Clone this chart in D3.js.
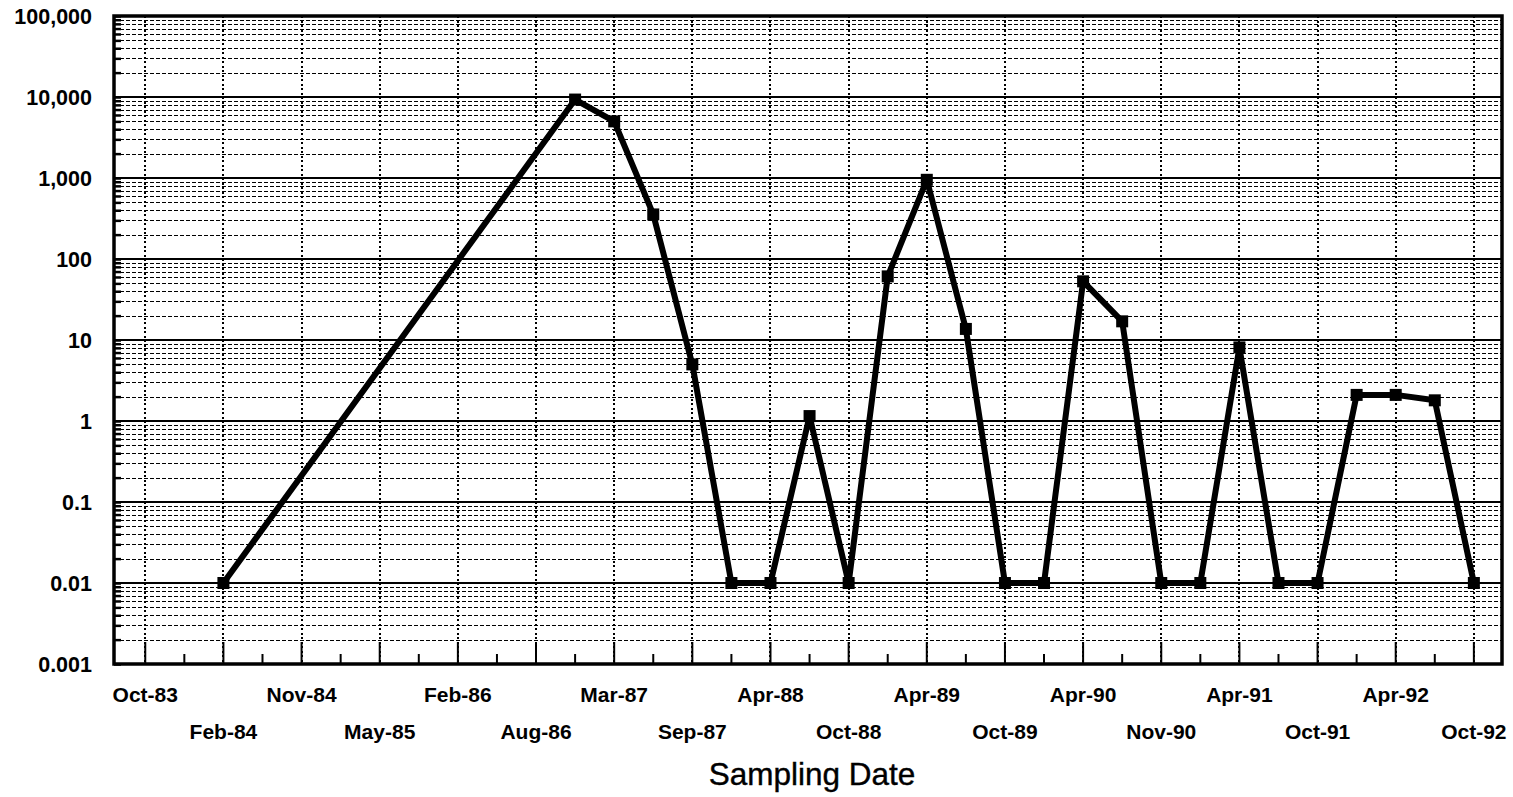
<!DOCTYPE html>
<html>
<head>
<meta charset="utf-8">
<script src="https://cdn.jsdelivr.net/npm/d3@7"></script>
<style>
  html, body { margin: 0; padding: 0; background: #fff; }
  svg { display: block; }
  text { font-family: "Liberation Sans", Arial, sans-serif; fill: #000; }
</style>
</head>
<body>
<svg id="chart" width="1513" height="797"></svg>
<script>
// Category labels: one label on every second sampling slot
const tickLabels = ["Oct-83","Feb-84","Nov-84","May-85","Feb-86","Aug-86","Mar-87","Sep-87","Apr-88",
                    "Oct-88","Apr-89","Oct-89","Apr-90","Nov-90","Apr-91","Oct-91","Apr-92","Oct-92"];
const slotCount = 35;

// Sampling slot of each measurement and the measured value
const sampleSlots = [2, 11, 12, 13, 14, 15, 16, 17, 18, 19, 20, 21, 22, 23, 24, 25, 26, 27, 28, 29, 30, 31, 32, 33, 34];
const concentrations = [0.01, 9300, 5000, 355, 5.0, 0.01, 0.01, 1.15, 0.01, 61, 950, 13.7, 0.01, 0.01,
                        53, 17, 0.01, 0.01, 8.1, 0.01, 0.01, 2.1, 2.1, 1.8, 0.01];

// Value axis ticks
const yTicks = [0.001, 0.01, 0.1, 1, 10, 100, 1000, 10000, 100000];
const yTickLabels = ["0.001", "0.01", "0.1", "1", "10", "100", "1,000", "10,000", "100,000"];

const plot = { left: 114, right: 1502, top: 16, bottom: 664 };

const svg = d3.select("#chart");

const x = d3.scaleLinear().domain([-0.8, slotCount - 1 + 0.72]).range([plot.left, plot.right]);
const y = d3.scaleLog().domain([0.001, 100000]).range([plot.bottom, plot.top]);

// Minor log gridlines (2..9 of every decade)
const minorVals = [];
for (let d = 0; d < yTicks.length - 1; d++) {
  for (let m = 2; m <= 9; m++) minorVals.push(yTicks[d] * m);
}

const grid = svg.append("g").attr("shape-rendering", "crispEdges");
grid.selectAll("line.minor").data(minorVals).join("line")
  .attr("class", "minor")
  .attr("x1", plot.left).attr("x2", plot.right)
  .attr("y1", d => Math.round(y(d)) + 0.5).attr("y2", d => Math.round(y(d)) + 0.5)
  .attr("stroke", "#000").attr("stroke-width", 1.5)
  .attr("stroke-dasharray", "4,2");

// Vertical dotted gridlines at labelled slots
const labelSlots = tickLabels.map((_, i) => i * 2);
grid.selectAll("line.vgrid").data(labelSlots).join("line")
  .attr("class", "vgrid")
  .attr("x1", d => x(d)).attr("x2", d => x(d))
  .attr("y1", plot.top).attr("y2", plot.bottom)
  .attr("stroke", "#000").attr("stroke-width", 2)
  .attr("stroke-dasharray", "2,2.5");

// Major decade gridlines
grid.selectAll("line.major").data(yTicks).join("line")
  .attr("class", "major")
  .attr("x1", plot.left).attr("x2", plot.right)
  .attr("y1", d => y(d)).attr("y2", d => y(d))
  .attr("stroke", "#000").attr("stroke-width", 2);

// Left axis: inward ticks and labels
const yAxis = d3.axisLeft(y)
  .tickValues(yTicks.concat(minorVals))
  .tickSize(-7)
  .tickFormat(d => { const i = yTicks.indexOf(d); return i >= 0 ? yTickLabels[i] : ""; });
const yAxisG = svg.append("g")
  .attr("transform", `translate(${plot.left},0)`)
  .call(yAxis);
yAxisG.select(".domain").remove();
yAxisG.selectAll(".tick line").attr("stroke", "#000").attr("stroke-width", 2.5);
yAxisG.selectAll(".tick text")
  .attr("x", -22)
  .attr("dy", "0.36em")
  .style("font-size", "21.5px")
  .style("font-weight", "bold")
  .style("font-family", "'Liberation Sans', Arial, sans-serif");

// Bottom axis: long ticks at labelled slots, short ticks between
const allSlots = d3.range(slotCount);
const xTicksG = svg.append("g");
xTicksG.selectAll("line").data(allSlots).join("line")
  .attr("x1", d => x(d)).attr("x2", d => x(d))
  .attr("y1", plot.bottom).attr("y2", d => plot.bottom - (d % 2 === 0 ? 22 : 10))
  .attr("stroke", "#000").attr("stroke-width", 2);

const xLabels = svg.append("g");
xLabels.selectAll("text").data(tickLabels).join("text")
  .attr("x", (d, i) => x(i * 2))
  .attr("y", (d, i) => i % 2 === 0 ? 702 : 739)
  .attr("text-anchor", "middle")
  .style("font-size", "21px")
  .style("font-weight", "bold")
  .text(d => d);

// Axis title
svg.append("text")
  .attr("x", 812).attr("y", 785)
  .attr("text-anchor", "middle")
  .style("font-size", "31.5px")
  .style("stroke", "#000").style("stroke-width", 0.4)
  .text("Sampling Date");

// Plot frame
svg.append("rect")
  .attr("x", plot.left).attr("y", plot.top)
  .attr("width", plot.right - plot.left).attr("height", plot.bottom - plot.top)
  .attr("fill", "none").attr("stroke", "#000").attr("stroke-width", 3.5);

// Series line and square markers
const points = sampleSlots.map((s, i) => ({ slot: s, value: concentrations[i] }));
const line = d3.line().x(d => x(d.slot)).y(d => y(d.value));
svg.append("path")
  .datum(points)
  .attr("d", line)
  .attr("fill", "none")
  .attr("stroke", "#000")
  .attr("stroke-width", 6)
  .attr("stroke-linejoin", "round");

svg.append("g").selectAll("rect").data(points).join("rect")
  .attr("x", d => x(d.slot) - 6)
  .attr("y", d => y(d.value) - 6)
  .attr("width", 12).attr("height", 12)
  .attr("fill", "#000");
</script>
</body>
</html>
